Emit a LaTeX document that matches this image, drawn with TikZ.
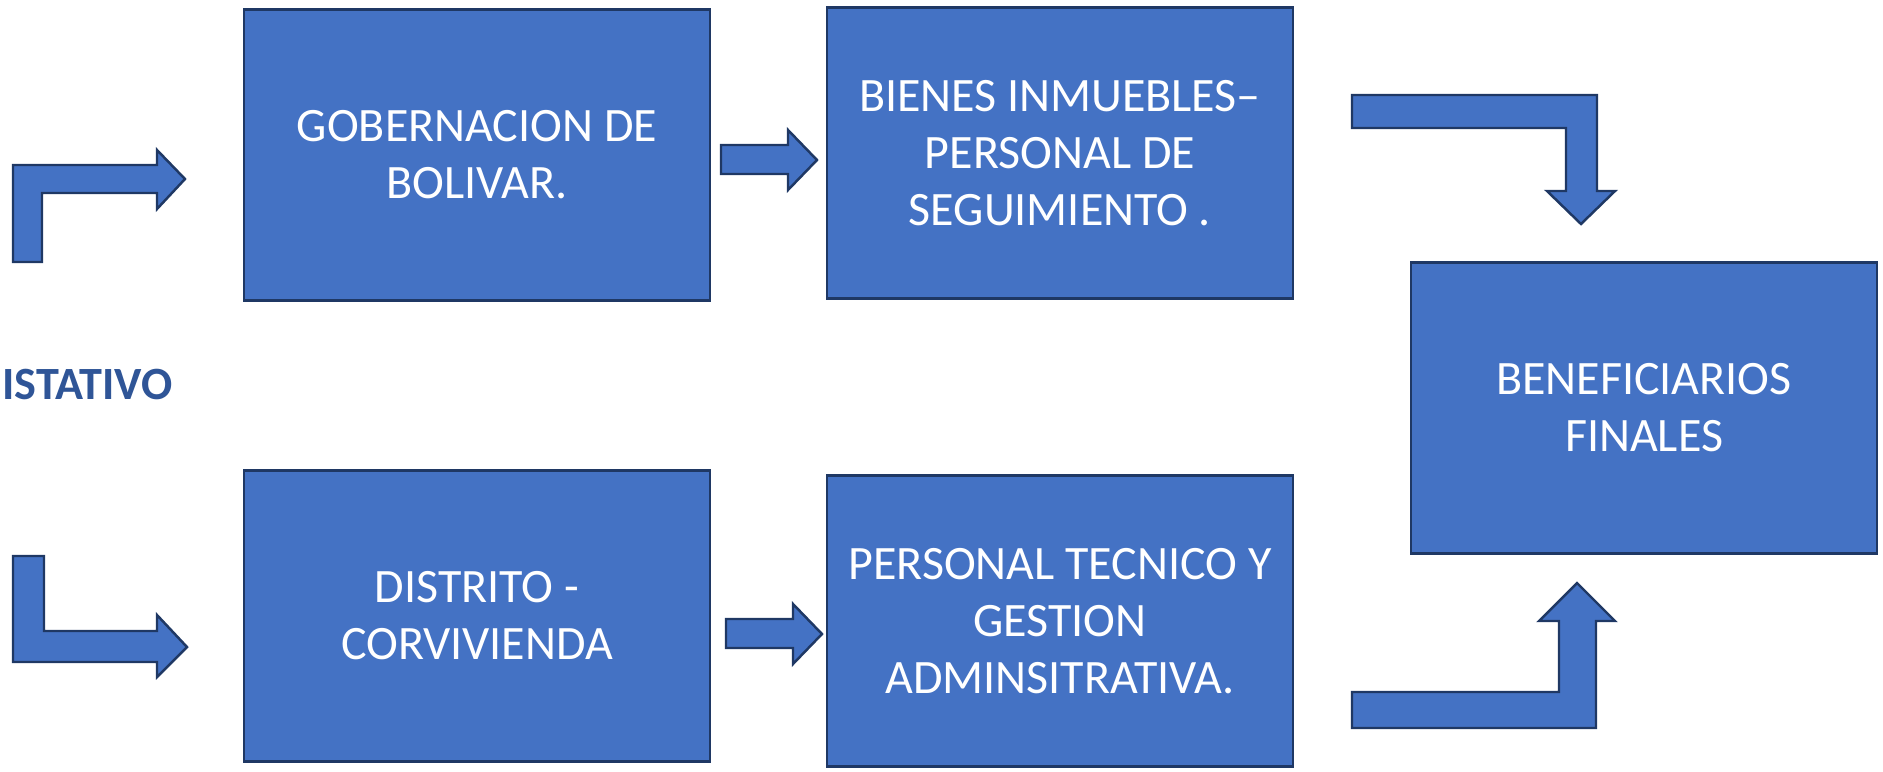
\documentclass[tikz,border=0pt]{standalone}
\usepackage{fontspec}
\setmainfont{Carlito}
\usepackage{xcolor}
\definecolor{boxblue}{HTML}{4472C4}
\definecolor{boxline}{HTML}{1F3864}
\definecolor{labelblue}{HTML}{2F5597}

\begin{document}
\begin{tikzpicture}[x=0.02cm,y=-0.02cm,
  block/.style={draw=boxline,line width=1.6pt,fill=boxblue,text=white,align=center,
    minimum width=9.32cm,minimum height=5.82cm,inner sep=0pt,
    font=\fontsize{27.3}{32.5}\selectfont},
  blockarrow/.style={draw=boxline,line width=1.4pt,fill=boxblue,line join=miter}]
\useasboundingbox (0,0) rectangle (1883,771);

% Boxes
\node[block] (gob) at (477,155) {GOBERNACION DE\\BOLIVAR.};
\node[block] (bienes) at (1060,153) {BIENES INMUEBLES–\\PERSONAL DE\\SEGUIMIENTO .};
\node[block] (benef) at (1644,408) {BENEFICIARIOS\\FINALES};
\node[block] (distrito) at (477,616) {DISTRITO -\\CORVIVIENDA};
\node[block] (personal) at (1060,621) {PERSONAL TECNICO Y\\GESTION\\ADMINSITRATIVA.};

% Side label
\node[anchor=base west,inner sep=0pt,text=labelblue,
  font=\bfseries\fontsize{26.3}{30}\selectfont] (label) at (2,399) {ISTATIVO};

% Bent arrows on the left
\draw[blockarrow] (13,262) -- (13,165) -- (157,165) -- (157,150) -- (185,179)
  -- (157,209) -- (157,193) -- (42,193) -- (42,262) -- cycle;
\draw[blockarrow] (13,556) -- (44,556) -- (44,631) -- (157,631) -- (157,615)
  -- (187,647) -- (157,677) -- (157,662) -- (13,662) -- cycle;

% Straight arrows between boxes
\draw[blockarrow] (721,145) -- (788,145) -- (788,130) -- (817,160) -- (788,190)
  -- (788,174) -- (721,174) -- cycle;
\draw[blockarrow] (726,619) -- (793,619) -- (793,604) -- (822,634) -- (793,664)
  -- (793,648) -- (726,648) -- cycle;

% Bent arrows into the final box
\draw[blockarrow] (1352,95) -- (1597,95) -- (1597,191) -- (1615,191) -- (1581,224)
  -- (1547,191) -- (1566,191) -- (1566,128) -- (1352,128) -- cycle;
\draw[blockarrow] (1352,728) -- (1352,692) -- (1559,692) -- (1559,621) -- (1539,621)
  -- (1577,583) -- (1615,621) -- (1596,621) -- (1596,728) -- cycle;
\end{tikzpicture}
\end{document}
